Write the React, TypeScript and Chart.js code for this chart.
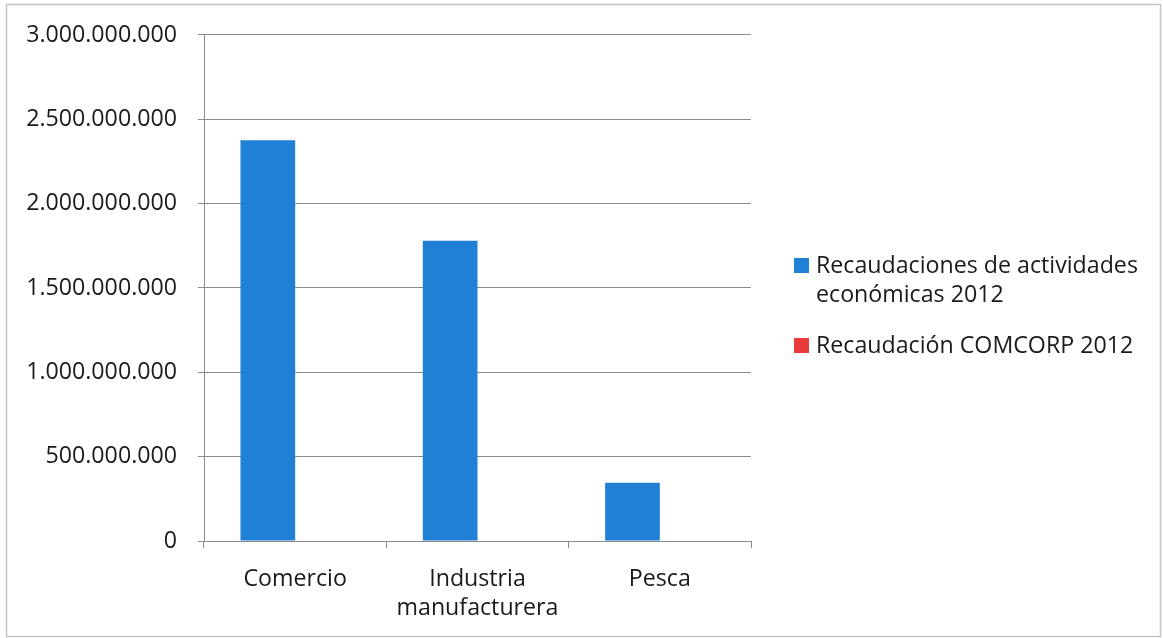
import { useEffect, useRef } from "react";
import { Chart, registerables } from "chart.js";

Chart.register(...registerables);

const categories: string[][] = [["Comercio"], ["Industria", "manufacturera"], ["Pesca"]];
const seriesNames: string[][] = [
  ["Recaudaciones de actividades", "económicas 2012"],
  ["Recaudación COMCORP 2012"],
];
const actividades2012: number[] = [2375000000, 1780000000, 345000000];
const comcorp2012: number[] = [0, 0, 0];
const yMax = 3000000000;
const yStep = 500000000;

const FONT = "'Open Sans', Lato, sans-serif";
const FSIZE = 23.2;
const TEXT = "#1a1a1a";
const GRID = "#8a8a8a";
const BLUE = "#1f80d6";
const RED = "#ea3b3b";

function fmt(v: number): string {
  return Math.round(v).toString().replace(/\B(?=(\d{3})+(?!\d))/g, ".");
}

const framePlugin = {
  id: "frame",
  beforeDraw(chart: any) {
    const ctx = chart.ctx;
    ctx.save();
    ctx.fillStyle = "#ffffff";
    ctx.fillRect(0, 0, chart.width, chart.height);
    ctx.strokeStyle = "#c4c4c4";
    ctx.lineWidth = 1.5;
    ctx.strokeRect(6.5, 4.5, 1154, 632);
    ctx.restore();
  },
};

const legendPlugin = {
  id: "sideLegend",
  afterDraw(chart: any) {
    const ctx = chart.ctx;
    ctx.save();
    ctx.font = `${FSIZE}px ${FONT}`;
    ctx.textBaseline = "alphabetic";
    ctx.textAlign = "left";
    let base = 273;
    chart.data.datasets.forEach((ds: any, i: number) => {
      const lines = seriesNames[i];
      ctx.fillStyle = ds.backgroundColor;
      ctx.fillRect(794, base - 15, 15, 15);
      ctx.fillStyle = TEXT;
      lines.forEach((l: string, j: number) => ctx.fillText(l, 816, base + j * 29));
      base += (lines.length - 1) * 29 + 51;
    });
    ctx.restore();
  },
};

export default function App() {
  const ref = useRef<HTMLCanvasElement | null>(null);

  useEffect(() => {
    if (!ref.current) return;
    const chart = new Chart(ref.current, {
      type: "bar",
      data: {
        labels: categories,
        datasets: [
          {
            label: seriesNames[0].join(" "),
            data: actividades2012,
            backgroundColor: BLUE,
            categoryPercentage: 0.6,
            barPercentage: 1,
          },
          {
            label: seriesNames[1].join(" "),
            data: comcorp2012,
            backgroundColor: RED,
            categoryPercentage: 0.6,
            barPercentage: 1,
          },
        ],
      },
      options: {
        responsive: false,
        animation: false,
        layout: { padding: { left: 0, right: 412, top: 33, bottom: 0 } },
        plugins: {
          legend: { display: false },
          tooltip: { enabled: false },
        },
        scales: {
          x: {
            offset: true,
            grid: {
              offset: true,
              drawOnChartArea: false,
              drawTicks: true,
              tickLength: 7,
              color: GRID,
              lineWidth: 1,
            },
            border: { display: true, color: GRID, width: 1 },
            ticks: {
              color: TEXT,
              font: { family: FONT, size: FSIZE, lineHeight: 1.25 },
              padding: 17,
              maxRotation: 0,
              autoSkip: false,
            },
            afterFit(scale: any) {
              scale.height = 97;
            },
          },
          y: {
            min: 0,
            max: yMax,
            grid: {
              color: GRID,
              lineWidth: 1,
              drawTicks: true,
              tickLength: 6,
            },
            border: { display: true, color: GRID, width: 1 },
            ticks: {
              stepSize: yStep,
              color: TEXT,
              font: { family: FONT, size: FSIZE },
              padding: 21,
              callback: (v: any) => fmt(Number(v)),
            },
            afterFit(scale: any) {
              scale.width = 204;
            },
          },
        },
      },
      plugins: [framePlugin, legendPlugin],
    });
    return () => chart.destroy();
  }, []);

  return (
    <div style={{ position: "fixed", left: 0, top: 0, width: 1163, height: 638, background: "#fff" }}>
      <canvas ref={ref} width={1163} height={638} style={{ display: "block", width: 1163, height: 638 }} />
    </div>
  );
}
